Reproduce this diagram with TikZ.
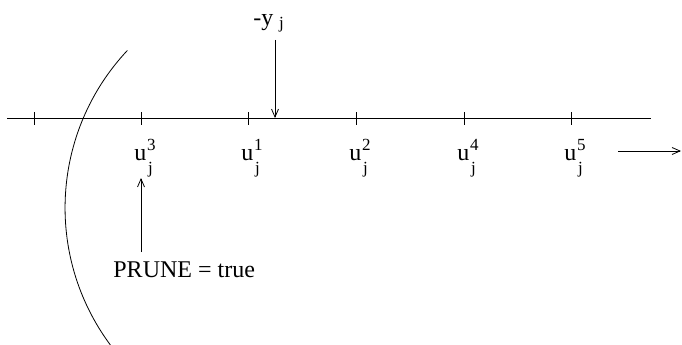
\documentclass[tikz,border=0pt]{standalone}
\usepackage{fontspec}
\setmainfont{Liberation Serif}
\usepackage{tikz}
\usetikzlibrary{arrows.meta}

\begin{document}
\begin{tikzpicture}[x=1pt, y=-1pt, line width=0.8pt, font=\fontsize{24}{28}\selectfont,
  >={Straight Barb[length=8pt,width=7pt]},
  ulabel/.style={anchor=base west, inner sep=0pt},
  idx/.style={anchor=base west, inner sep=0pt, font=\fontsize{17}{20}\selectfont}]
  \useasboundingbox (0,0) rectangle (682,345);
  % axis
  \coordinate (axL) at (7,118);
  \coordinate (axR) at (651,118);
  \draw (axL) -- (axR);
  \foreach \x/\k in {34/, 141/3, 248/1, 356/2, 464/4, 571/5} {
    \draw (\x,112) -- (\x,125);
    \ifx\k\empty\else
      \node[ulabel] (u\k) at (\x-7,160) {u};
      \node[idx] (s\k) at (u\k.base east) [yshift=10pt] {\k};
      \node[idx] (j\k) at (u\k.base east) [yshift=-13pt, xshift=1pt] {j};
    \fi
  }
  % -y_j
  \node[anchor=base west, inner sep=0pt] (yl) at (253,26) {-y};
  \node[idx] (yj) at (yl.base east) [xshift=5pt, yshift=-3pt] {j};
  \coordinate (ytop) at (275,40);
  \coordinate (ytip) at (275,118);
  \draw[->] (ytop) -- (ytip);
  % prune
  \node[anchor=base west, inner sep=0pt] (prune) at (113,277) {PRUNE = true};
  \coordinate (pbot) at (141,252);
  \coordinate (ptip) at (141,178);
  \draw[->] (pbot) -- (ptip);
  % direction
  \coordinate (dL) at (618,151);
  \coordinate (dR) at (681,151);
  \draw[->] (dL) -- (dR);
  % cut
  \draw (110.4,345) arc[start angle=143.4, end angle=223.2, radius=230];
\end{tikzpicture}
\end{document}
